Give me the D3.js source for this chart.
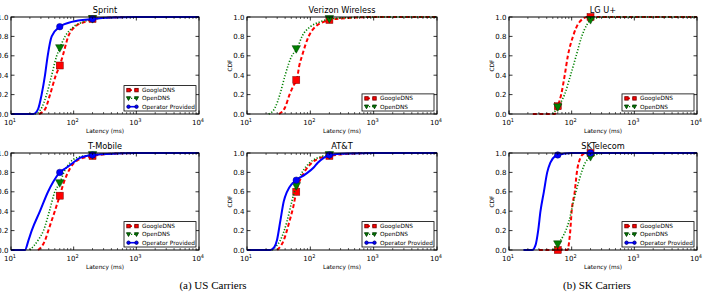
<!DOCTYPE html>
<html>
<head>
<meta charset="utf-8">
<script src="https://cdn.jsdelivr.net/npm/d3@7"></script>
<style>
  body { margin: 0; background: #fff; }
  svg { display: block; }
  text { font-family: "DejaVu Sans", sans-serif; fill: #000; }
</style>
</head>
<body>
<figure id="chart" style="margin:0"></figure>
<script>
// ---- data (latency in ms, CDF) ----
const panelTitles = ["Sprint", "Verizon Wireless", "LG U+", "T-Mobile", "AT&T", "SKTelecom"];
const seriesNames = ["GoogleDNS", "OpenDNS", "Operator Provided"];
const xTicks = [10, 100, 1000, 10000];
const yTicks = [0, 0.2, 0.4, 0.6, 0.8, 1.0];
const markLat = [60, 200];
const captions = ["(a) US Carriers", "(b) SK Carriers"];

const sprintGoogle = [[28,0],[35,0.05],[42,0.2],[52,0.4],[60,0.5],[67,0.6],[82,0.8],[105,0.9],[152,0.95],[200,0.98],[400,0.995],[1000,1],[10000,1]];
const sprintOpen = [[24,0],[30,0.05],[37,0.2],[44.6,0.4],[53.6,0.6],[60,0.68],[73,0.8],[100,0.9],[142,0.95],[200,0.98],[500,0.995],[1000,1],[10000,1]];
const sprintOper = [[10,0],[22.7,0],[27,0.05],[30.8,0.2],[34.9,0.4],[38.5,0.6],[44.6,0.8],[60,0.9],[93,0.95],[200,0.98],[400,0.995],[900,1],[10000,1]];
const sprintMarks = [[0.5,0.98],[0.68,0.98],[0.9,0.98]];

const verizonGoogle = [[32,0],[40,0.07],[47,0.2],[55,0.3],[61,0.35],[67,0.5],[74,0.6],[94,0.8],[120,0.9],[163,0.95],[200,0.97],[400,0.99],[1000,1],[10000,1]];
const verizonOpen = [[22,0],[28,0.07],[33,0.2],[40,0.4],[51,0.6],[61.5,0.67],[74,0.8],[100,0.9],[144,0.95],[200,0.98],[500,0.995],[1000,1],[10000,1]];
const verizonMarks = [[0.35,0.97],[0.67,0.98]];

const lgGoogle = [[24,0],[54,0],[60,0.08],[68,0.2],[77.5,0.4],[87,0.6],[105,0.8],[134,0.95],[182,1],[10000,1]];
const lgOpen = [[50,0],[60,0.07],[77,0.2],[96,0.4],[118,0.6],[145,0.8],[175,0.92],[200,0.97],[337,1],[10000,1]];
const lgMarks = [[0.08,1.0],[0.07,0.97]];

const tmoGoogle = [[27,0],[35,0.1],[39.4,0.2],[50,0.4],[60,0.56],[70,0.7],[89,0.85],[118,0.93],[200,0.97],[500,0.995],[1000,1],[10000,1]];
const tmoOpen = [[20,0],[27,0.1],[33,0.2],[41,0.4],[50,0.6],[60,0.69],[70,0.8],[87,0.9],[111,0.95],[200,0.98],[500,0.995],[1000,1],[10000,1]];
const tmoOper = [[10,0],[16.7,0],[19,0.1],[21.4,0.2],[29,0.4],[39,0.6],[47,0.7],[60,0.8],[77,0.85],[98,0.9],[126,0.95],[200,0.98],[500,0.995],[1000,1],[10000,1]];
const tmoMarks = [[0.56,0.97],[0.69,0.98],[0.8,0.98]];

const attGoogle = [[30,0],[38,0.1],[47,0.3],[54,0.45],[60,0.6],[80,0.8],[106,0.9],[144,0.95],[200,0.97],[500,0.995],[1000,1],[10000,1]];
const attOpen = [[24.8,0],[29,0.04],[33.6,0.1],[43,0.3],[51,0.5],[60,0.66],[74,0.8],[98,0.9],[130,0.95],[200,0.98],[500,0.995],[1000,1],[10000,1]];
const attOper = [[10,0],[23.4,0],[27,0.03],[29.7,0.1],[33.6,0.3],[38,0.5],[42.8,0.6],[51,0.68],[60,0.72],[83,0.78],[113,0.85],[131,0.9],[163,0.95],[200,0.98],[400,0.995],[1000,1],[10000,1]];
const attMarks = [[0.6,0.97],[0.66,0.98],[0.72,0.98]];

const skGoogle = [[30,0],[85,0],[95,0.2],[100,0.4],[112,0.6],[121,0.8],[138,0.95],[155,0.99],[200,1],[10000,1]];
const skOpen = [[51,0],[60,0.06],[74,0.15],[91,0.3],[107,0.5],[129,0.7],[165,0.9],[200,0.96],[340,1],[10000,1]];
const skOper = [[17,0],[23.4,0],[26.5,0.05],[29.2,0.2],[31.8,0.4],[36,0.6],[40.7,0.8],[45.7,0.9],[55,0.97],[60,0.98],[100,1],[10000,1]];
const skMarks = [[0.0,1.0],[0.06,0.96],[0.98,1.0]];

const panelSeries = [
  [sprintGoogle, sprintOpen, sprintOper],
  [verizonGoogle, verizonOpen],
  [lgGoogle, lgOpen],
  [tmoGoogle, tmoOpen, tmoOper],
  [attGoogle, attOpen, attOper],
  [skGoogle, skOpen, skOper]
];
const panelMarks = [sprintMarks, verizonMarks, lgMarks, tmoMarks, attMarks, skMarks];

// ---- layout ----
const W = 705, H = 297;
const cols = [[11, 199], [247, 437], [509, 697]];
const rows = [[17, 114], [153, 250]];

const colors = ['#ff0000', '#008000', '#0000ff'];
const edgeColors = ['#7a0000', '#003800', '#00007a'];
const dashes = ['4,2.5', '1.2,1.8', null];
const widths = [2, 1.6, 2];

const svg = d3.select('#chart').append('svg').attr('width', W).attr('height', H);

function marker(g, type, x, y, i, size, ew) {
  if (type === 0) {
    g.append('rect').attr('x', x - size / 2).attr('y', y - size / 2)
      .attr('width', size).attr('height', size)
      .attr('fill', colors[i]).attr('stroke', edgeColors[i]).attr('stroke-width', ew);
  } else if (type === 1) {
    const s = size * 0.6;
    g.append('path').attr('d', `M${x - s},${y - s * 0.8}L${x + s},${y - s * 0.8}L${x},${y + s}Z`)
      .attr('fill', colors[i]).attr('stroke', edgeColors[i]).attr('stroke-width', ew);
  } else {
    g.append('circle').attr('cx', x).attr('cy', y).attr('r', size / 2)
      .attr('fill', colors[i]).attr('stroke', edgeColors[i]).attr('stroke-width', ew);
  }
}

panelTitles.forEach((title, p) => {
  const [x0, x1] = cols[p % 3];
  const [y0, y1] = rows[Math.floor(p / 3)];

  const x = d3.scaleLog().domain([10, 10000]).range([x0, x1]);
  const y = d3.scaleLinear().domain([0, 1]).range([y1, y0]);

  const g = svg.append('g');

  // curves
  const line = d3.line()
    .x(d => x(d[0]))
    .y(d => y(d[1]))
    .curve(d3.curveMonotoneX);

  panelSeries[p].forEach((s, i) => {
    g.append('path')
      .attr('d', line(s))
      .attr('fill', 'none')
      .attr('stroke', colors[i])
      .attr('stroke-width', widths[i])
      .attr('stroke-dasharray', dashes[i]);
    panelMarks[p][i].forEach((v, k) => {
      marker(g, i, x(markLat[k]), y(v), i, i === 2 ? 6.5 : 7, 0.5);
    });
  });

  // frame
  g.append('rect')
    .attr('x', x0).attr('y', y0).attr('width', x1 - x0).attr('height', y1 - y0)
    .attr('fill', 'none').attr('stroke', '#000').attr('stroke-width', 1);

  // x ticks (major + minor, inside, top and bottom)
  const minors = [];
  for (let d = 10; d < 10000; d *= 10) for (let m = 2; m <= 9; m++) minors.push(d * m);
  minors.forEach(v => {
    g.append('line').attr('x1', x(v)).attr('x2', x(v)).attr('y1', y1).attr('y2', y1 - 2).attr('stroke', '#000').attr('stroke-width', 0.6);
    g.append('line').attr('x1', x(v)).attr('x2', x(v)).attr('y1', y0).attr('y2', y0 + 2).attr('stroke', '#000').attr('stroke-width', 0.6);
  });
  xTicks.forEach((v, k) => {
    g.append('line').attr('x1', x(v)).attr('x2', x(v)).attr('y1', y1).attr('y2', y1 - 3.5).attr('stroke', '#000').attr('stroke-width', 0.8);
    g.append('line').attr('x1', x(v)).attr('x2', x(v)).attr('y1', y0).attr('y2', y0 + 3.5).attr('stroke', '#000').attr('stroke-width', 0.8);
    const t = g.append('text').attr('x', x(v) - 1).attr('y', y1 + 10.5)
      .attr('text-anchor', 'middle').style('font-size', '7px');
    t.append('tspan').text('10');
    t.append('tspan').attr('dy', -3).style('font-size', '5px').text(k + 1);
  });

  // y ticks
  yTicks.forEach(v => {
    g.append('line').attr('x1', x0).attr('x2', x0 + 3.5).attr('y1', y(v)).attr('y2', y(v)).attr('stroke', '#000').attr('stroke-width', 0.8);
    g.append('line').attr('x1', x1).attr('x2', x1 - 3.5).attr('y1', y(v)).attr('y2', y(v)).attr('stroke', '#000').attr('stroke-width', 0.8);
    g.append('text').attr('x', x0 - 2.5).attr('y', y(v) + 2.5)
      .attr('text-anchor', 'end').style('font-size', '7px').text(d3.format('.1f')(v));
  });

  // labels
  g.append('text').attr('x', (x0 + x1) / 2).attr('y', y0 - 4)
    .attr('text-anchor', 'middle').style('font-size', '8.2px').text(title);
  g.append('text').attr('x', (x0 + x1) / 2).attr('y', y1 + 18.5)
    .attr('text-anchor', 'middle').style('font-size', '5.8px').text('Latency (ms)');
  g.append('text')
    .attr('transform', `translate(${x0 - 15},${(y0 + y1) / 2}) rotate(-90)`)
    .attr('text-anchor', 'middle').style('font-size', '5.8px').text('CDF');

  // legend
  const n = panelSeries[p].length;
  const lw = 72, lh = n * 8.3 + 0.5;
  const lx = x1 - 3 - lw, ly = y1 - 3 - lh;
  const lg = g.append('g');
  lg.append('rect').attr('x', lx).attr('y', ly).attr('width', lw).attr('height', lh)
    .attr('fill', '#fff').attr('stroke', '#000').attr('stroke-width', 0.8);
  for (let i = 0; i < n; i++) {
    const ry = ly + 4.5 + i * 8.3;
    lg.append('line').attr('x1', lx + 4).attr('x2', lx + 13).attr('y1', ry).attr('y2', ry)
      .attr('stroke', colors[i]).attr('stroke-width', widths[i] * 0.8).attr('stroke-dasharray', dashes[i]);
    marker(lg, i, lx + 4.5, ry, i, 3.4, 0.9);
    marker(lg, i, lx + 12.5, ry, i, 3.4, 0.9);
    lg.append('text').attr('x', lx + 18).attr('y', ry + 2)
      .style('font-size', '5.8px').text(seriesNames[i]);
  }
});

// captions
svg.append('text').attr('x', 213).attr('y', 289).attr('text-anchor', 'middle')
  .style('font-family', '"Liberation Serif", serif').style('font-size', '11px').text(captions[0]);
svg.append('text').attr('x', 597).attr('y', 289).attr('text-anchor', 'middle')
  .style('font-family', '"Liberation Serif", serif').style('font-size', '11px').text(captions[1]);
</script>
</body>
</html>
